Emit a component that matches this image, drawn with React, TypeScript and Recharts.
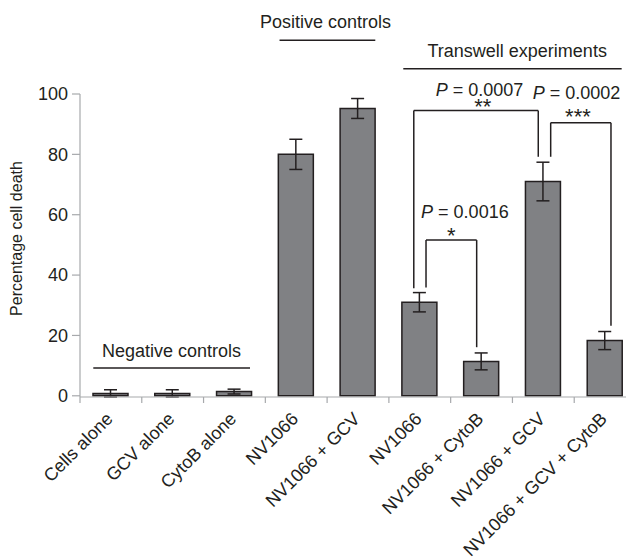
import React from 'react';
import { BarChart, Bar, XAxis, YAxis, ErrorBar, ReferenceLine, ReferenceDot } from 'recharts';

const categories = [
  'Cells alone',
  'GCV alone',
  'CytoB alone',
  'NV1066',
  'NV1066 + GCV',
  'NV1066',
  'NV1066 + CytoB',
  'NV1066 + GCV',
  'NV1066 + GCV + CytoB',
];
const values = [0.8, 0.8, 1.4, 80, 95.2, 31, 11.4, 71, 18.3];
const errors = [1.2, 1.2, 0.8, 5, 3.3, 3.2, 2.8, 6.4, 3];
const yTicks = [0, 20, 40, 60, 80, 100];

// group headings: [label, x centre, baseline, line from, line to, line y]
const groups: [string, number, number, number, number, number][] = [
  ['Negative controls', 0.98, 12.8, -0.285, 2.252, 9.24],
  ['Positive controls', 3.474, 121.9, 2.73, 4.28, 117.8],
  ['Transwell experiments', 6.577, 112.3, 4.733, 8.268, 108.4],
];

// significance brackets: [left x, left foot, right x, right foot, top]
const brackets: [number, number, number, number, number][] = [
  [4.903, 35.6, 6.918, 79.2, 94.5],
  [5.101, 35.9, 5.921, 16.1, 51.6],
  [7.119, 79.2, 8.095, 23.2, 90.5],
];

// p-values and stars: [p, x, baseline, stars, star x, star baseline]
const pLabels: [string, number, number, string, number, number][] = [
  ['0.0016', 5.73, 59.0, '*', 5.51, 50.7],
  ['0.0007', 5.967, 99.3, '**', 6.02, 93.4],
  ['0.0002', 7.537, 98.3, '***', 7.56, 90.2],
];

const data = categories.map((name, i) => ({ name, idx: i, value: values[i], err: errors[i] }));

const W = 626;
const H = 552;
const M = { top: 86, right: -2, left: 12, bottom: 0 };
const Y_W = 60;
const FONT = '"Liberation Sans", Arial, Helvetica, sans-serif';
const INK = '#231f20';
const AXIS = '#a7a9ac';
const band = (W - M.left - M.right - Y_W) / categories.length;

const CategoryTick = (props: any) => {
  const { x, y, payload } = props;
  const tx = x + 3;
  const ty = y + 23;
  return (
    <g>
      <line x1={x - band / 2} x2={x - band / 2} y1={y} y2={y + 6} stroke={AXIS} strokeWidth={1.2} />
      <text
        x={tx}
        y={ty}
        transform={`rotate(-45, ${tx}, ${ty})`}
        textAnchor="end"
        fontSize={18}
        fontFamily={FONT}
        fill={INK}
      >
        {payload.value}
      </text>
    </g>
  );
};

const textShape = (content: React.ReactNode, size = 18) => (p: any) => (
  <text x={p.cx} y={p.cy} textAnchor="middle" fontSize={size} fontFamily={FONT} fill={INK}>
    {content}
  </text>
);

export default function App() {
  return (
    <BarChart width={W} height={H} data={data} margin={M}>
      <XAxis
        dataKey="name"
        height={163}
        interval={0}
        tickLine={false}
        tickSize={0}
        tickMargin={0}
        axisLine={{ stroke: AXIS, strokeWidth: 1.2 }}
        tick={<CategoryTick />}
      />
      <XAxis xAxisId="num" type="number" dataKey="idx" domain={[-0.5, 8.5]} hide />
      <YAxis
        width={Y_W}
        domain={[0, 100]}
        ticks={yTicks}
        tickSize={8}
        tickMargin={4}
        axisLine={{ stroke: AXIS, strokeWidth: 1.2 }}
        tickLine={{ stroke: AXIS, strokeWidth: 1.2 }}
        tick={{ fontSize: 18, fontFamily: FONT, fill: INK }}
        label={(p: any) => {
          const vb = p.viewBox;
          const tx = vb.x + 2;
          const ty = vb.y + vb.height / 2 - 7;
          return (
            <text
              transform={`translate(${tx}, ${ty}) rotate(-90)`}
              textAnchor="middle"
              fontSize={16}
              fontFamily={FONT}
              fill={INK}
            >
              Percentage cell death
            </text>
          );
        }}
      />
      <Bar dataKey="value" barSize={35} fill="#808184" stroke={INK} strokeWidth={1.5} isAnimationActive={false}>
        <ErrorBar dataKey="err" direction="y" width={6.5} stroke={INK} strokeWidth={1.5} />
      </Bar>

      {groups.map(([label, cx, base, x1, x2, ly]) => [
        <ReferenceLine
          key={`gl-${label}`}
          xAxisId="num"
          ifOverflow="visible"
          segment={[{ x: x1, y: ly }, { x: x2, y: ly }]}
          stroke={INK}
          strokeWidth={1.5}
        />,
        <ReferenceDot
          key={`gt-${label}`}
          xAxisId="num"
          x={cx}
          y={base}
          r={0}
          ifOverflow="visible"
          shape={textShape(label)}
        />,
      ])}

      {brackets.map(([xl, yl, xr, yr, top], i) => [
        <ReferenceLine
          key={`bl-${i}`}
          xAxisId="num"
          ifOverflow="visible"
          segment={[{ x: xl, y: yl }, { x: xl, y: top }]}
          stroke={INK}
          strokeWidth={1.5}
        />,
        <ReferenceLine
          key={`bt-${i}`}
          xAxisId="num"
          ifOverflow="visible"
          segment={[{ x: xl, y: top }, { x: xr, y: top }]}
          stroke={INK}
          strokeWidth={1.5}
        />,
        <ReferenceLine
          key={`br-${i}`}
          xAxisId="num"
          ifOverflow="visible"
          segment={[{ x: xr, y: top }, { x: xr, y: yr }]}
          stroke={INK}
          strokeWidth={1.5}
        />,
      ])}

      {pLabels.map(([p, px, py, stars, sx, sy]) => [
        <ReferenceDot
          key={`p-${p}`}
          xAxisId="num"
          x={px}
          y={py}
          r={0}
          ifOverflow="visible"
          shape={textShape(
            <>
              <tspan fontStyle="italic">P</tspan> = {p}
            </>
          )}
        />,
        <ReferenceDot
          key={`s-${p}`}
          xAxisId="num"
          x={sx}
          y={sy}
          r={0}
          ifOverflow="visible"
          shape={textShape(stars, 22)}
        />,
      ])}
    </BarChart>
  );
}
